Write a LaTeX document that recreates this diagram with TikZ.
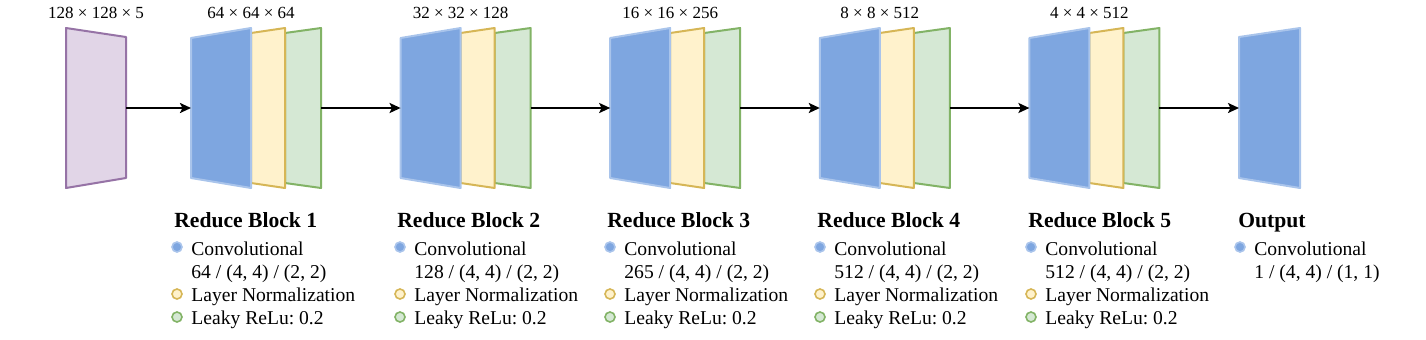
\documentclass[tikz,border=0pt]{standalone}
\usepackage{fontspec}
\setmainfont{Liberation Serif}
\usepackage{tikz}
\usepackage{xcolor}
\usetikzlibrary{arrows.meta,positioning,calc}
\definecolor{convfill}{HTML}{7EA6E0}
\definecolor{convline}{HTML}{A9C4EB}
\definecolor{normfill}{HTML}{FFF2CC}
\definecolor{normline}{HTML}{D6B656}
\definecolor{actfill}{HTML}{D5E8D4}
\definecolor{actline}{HTML}{82B366}
\definecolor{inpfill}{HTML}{E1D5E7}
\definecolor{inpline}{HTML}{9673A6}
\frenchspacing
\tikzset{
  conv/.style={fill=convfill,draw=convline,line width=1pt,line join=round},
  norm/.style={fill=normfill,draw=normline,line width=1pt,line join=round},
  act/.style={fill=actfill,draw=actline,line width=1pt,line join=round},
  inp/.style={fill=inpfill,draw=inpline,line width=1pt,line join=round},
  flow/.style={-{Stealth[length=5.5pt,width=5pt,inset=1.2pt]},line width=1.1pt,black},
  dimlabel/.style={font=\fontsize{8.5}{10}\selectfont,anchor=base,inner sep=0pt},
  blocktitle/.style={font=\fontsize{10.8}{13}\selectfont\bfseries,anchor=base west,inner sep=0pt},
  item/.style={font=\fontsize{9.8}{11.5}\selectfont,anchor=base west,inner sep=0pt},
  dot/.style={circle,minimum size=5pt,inner sep=0pt,line width=0.8pt}
}

\begin{document}
\begin{tikzpicture}[x=0.5pt,y=-0.5pt]
  \useasboundingbox (0,0) rectangle (1426,339);
  % input layer
  \draw[inp] (66,28) -- (126,37) -- (126,178) -- (66,188) -- cycle;
  \coordinate (inp-out) at (126,108);
  \node[dimlabel] (inp-dim) at (96,18) {128 × 128 × 5};
  % reduce blocks
  \foreach \i/\L/\dims in {1/191/64 × 64 × 64, 2/400.6/32 × 32 × 128,
      3/610.2/16 × 16 × 256, 4/819.8/8 × 8 × 512, 5/1029.4/4 × 4 × 512} {
    \draw[act] (\L+94,33) -- (\L+130,28) -- (\L+130,188) -- (\L+94,183) -- cycle;
    \draw[norm] (\L+60,33) -- (\L+94,28) -- (\L+94,188) -- (\L+60,183) -- cycle;
    \draw[conv] (\L,38) -- (\L+60,28) -- (\L+60,188) -- (\L,178) -- cycle;
    \coordinate (b\i-in) at (\L,108);
    \coordinate (b\i-out) at (\L+130,108);
    \node[dimlabel] (b\i-dim) at (\L+60,18) {\dims};
  }
  % output layer
  \draw[conv] (1239,37) -- (1300,28) -- (1300,188) -- (1239,178) -- cycle;
  \coordinate (outp-in) at (1239,108);
  % connectors
  \draw[flow] (inp-out) -- (b1-in);
  \foreach \a/\b in {1/2,2/3,3/4,4/5}
    \draw[flow] (b\a-out) -- (b\b-in);
  \draw[flow] (b5-out) -- (outp-in);
  % legends
  \foreach \i/\tx/\cv in {1/174/{64 / (4, 4) / (2, 2)}, 2/397/{128 / (4, 4) / (2, 2)},
      3/607/{265 / (4, 4) / (2, 2)}, 4/817/{512 / (4, 4) / (2, 2)},
      5/1028/{512 / (4, 4) / (2, 2)}} {
    \node[blocktitle] (t\i-title) at (\tx,227) {Reduce Block \i};
    \node[dot,fill=convfill,draw=convline] (t\i-d1) at (\tx+3,247) {};
    \node[item] (t\i-conv) at (\tx+17,255) {Convolutional};
    \node[item] (t\i-par) at (\tx+17,278) {\cv};
    \node[dot,fill=normfill,draw=normline] (t\i-d2) at (\tx+3,294) {};
    \node[item] (t\i-norm) at (\tx+17,301) {Layer Normalization};
    \node[dot,fill=actfill,draw=actline] (t\i-d3) at (\tx+3,317) {};
    \node[item] (t\i-act) at (\tx+17,324) {Leaky ReLu: 0.2};
  }
  \node[blocktitle] (to-title) at (1238,227) {Output};
  \node[dot,fill=convfill,draw=convline] (to-d1) at (1240,247) {};
  \node[item] (to-conv) at (1254,255) {Convolutional};
  \node[item] (to-par) at (1254,278) {1 / (4, 4) / (1, 1)};
\end{tikzpicture}
\end{document}
